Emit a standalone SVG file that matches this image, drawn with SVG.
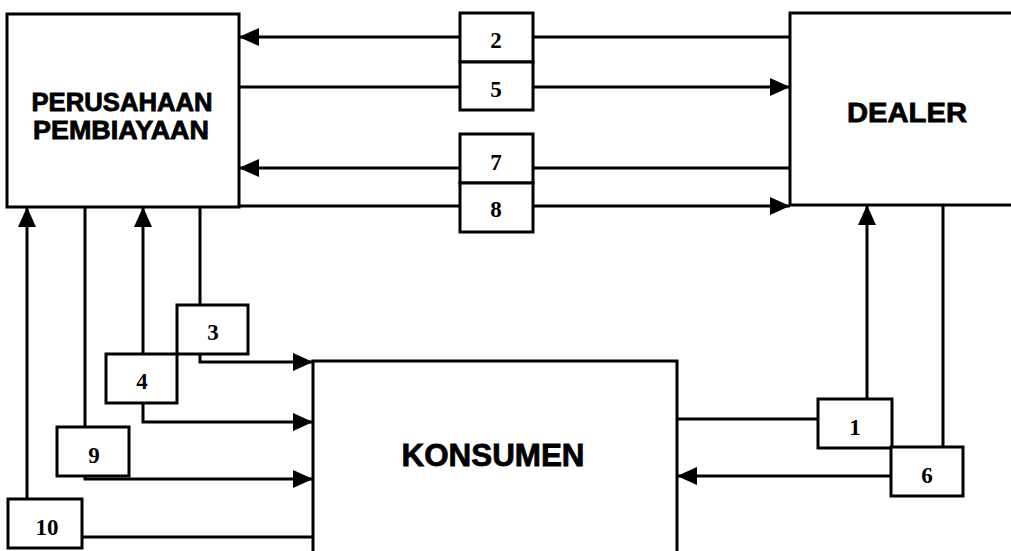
<svg xmlns="http://www.w3.org/2000/svg" width="1011" height="551" viewBox="0 0 1011 551">
<style>
.box{fill:#fff;stroke:#000;stroke-width:3}
.num{fill:#fff;stroke:#000;stroke-width:3}
.ln{fill:none;stroke:#000;stroke-width:3}
.big{font-family:"Liberation Sans",Arial,sans-serif;font-weight:bold;text-anchor:middle;fill:#000;stroke:#000;stroke-width:0.8}
.dg{font-family:"Liberation Serif","Times New Roman",serif;font-weight:bold;font-size:23px;text-anchor:middle;fill:#000}
</style>
<defs>
<marker id="ah" markerUnits="userSpaceOnUse" markerWidth="20" markerHeight="18" refX="20" refY="9" orient="auto">
<path d="M0,0 L20,9 L0,18 z" fill="#000"/>
</marker>
</defs>
<rect width="1011" height="551" fill="#fff"/>
<g id="connectors">
<path class="ln" d="M790,37 H239" marker-end="url(#ah)"/>
<path class="ln" d="M239,87 H790" marker-end="url(#ah)"/>
<path class="ln" d="M790,168 H239" marker-end="url(#ah)"/>
<path class="ln" d="M239,206 H790" marker-end="url(#ah)"/>
<path class="ln" d="M200,207 V362 H313" marker-end="url(#ah)"/>
<path class="ln" d="M143,403 V422 H313" marker-end="url(#ah)"/>
<path class="ln" d="M143,354 V207" marker-end="url(#ah)"/>
<path class="ln" d="M85,207 V479 H313" marker-end="url(#ah)"/>
<path class="ln" d="M313,537 H27 V207" marker-end="url(#ah)"/>
<path class="ln" d="M677,419 H867 V205" marker-end="url(#ah)"/>
<path class="ln" d="M943,205 V476 H677" marker-end="url(#ah)"/>
</g>
<g id="perusahaan">
<rect class="box" x="7" y="14" width="232" height="193"/>
<text class="big" font-size="25" x="122" y="111" textLength="181" lengthAdjust="spacingAndGlyphs">PERUSAHAAN</text>
<text class="big" font-size="25" x="121" y="139" textLength="176" lengthAdjust="spacingAndGlyphs">PEMBIAYAAN</text>
</g>
<g id="dealer">
<rect class="box" x="790" y="13" width="240" height="192"/>
<text class="big" font-size="28" x="907" y="122" textLength="120" lengthAdjust="spacingAndGlyphs">DEALER</text>
</g>
<g id="konsumen">
<rect class="box" x="313" y="361" width="364" height="210"/>
<text class="big" font-size="31" x="493" y="466" textLength="183" lengthAdjust="spacingAndGlyphs">KONSUMEN</text>
</g>
<g id="n2"><rect class="num" x="460" y="13" width="73" height="49"/><text class="dg" x="496" y="48">2</text></g>
<g id="n5"><rect class="num" x="460" y="62" width="73" height="48"/><text class="dg" x="496" y="97">5</text></g>
<g id="n7"><rect class="num" x="460" y="134" width="73" height="49"/><text class="dg" x="496" y="170">7</text></g>
<g id="n8"><rect class="num" x="460" y="183" width="73" height="49"/><text class="dg" x="496" y="217">8</text></g>
<g id="n3"><rect class="num" x="177" y="305" width="71" height="49"/><text class="dg" x="213" y="340">3</text></g>
<g id="n4"><rect class="num" x="106" y="354" width="71" height="49"/><text class="dg" x="142" y="389">4</text></g>
<g id="n9"><rect class="num" x="57" y="427" width="72" height="49"/><text class="dg" x="94" y="463">9</text></g>
<g id="n10"><rect class="num" x="8" y="499" width="74" height="49"/><text class="dg" x="47" y="535">10</text></g>
<g id="n1"><rect class="num" x="818" y="399" width="74" height="49"/><text class="dg" x="855" y="435">1</text></g>
<g id="n6"><rect class="num" x="891" y="447" width="72" height="49"/><text class="dg" x="927" y="483">6</text></g>
</svg>
